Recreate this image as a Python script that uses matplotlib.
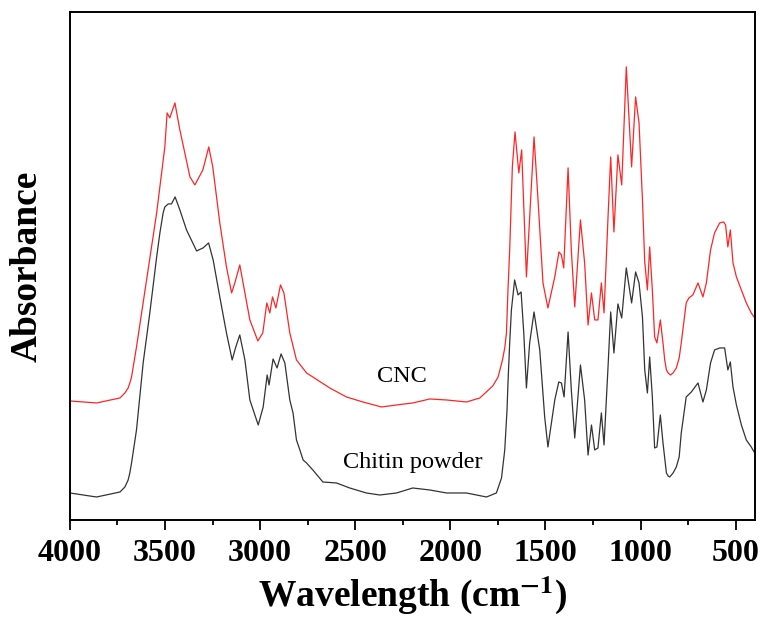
import matplotlib
matplotlib.use("Agg")
import matplotlib.pyplot as plt
from matplotlib.ticker import MultipleLocator

plt.rcParams["font.family"] = ["Liberation Serif", "DejaVu Serif"]
plt.rcParams["mathtext.fontset"] = "stix"

# FTIR spectra, wavenumber (cm-1) vs absorbance (a.u.)
cnc_wn = [4000, 3860, 3737, 3711, 3694, 3685, 3676, 3664, 3650, 3597, 3544, 3501, 3489, 3475,
          3448, 3422, 3396, 3369, 3343, 3301, 3270, 3249, 3212, 3177, 3150, 3133, 3107, 3080,
          3054, 3012, 2986, 2965, 2949, 2935, 2917, 2893, 2875, 2844, 2809, 2756, 2723, 2634,
          2546, 2460, 2362, 2283, 2198, 2108, 2020, 1915, 1845, 1777, 1749, 1726, 1714, 1705,
          1697, 1688, 1674, 1660, 1640, 1625, 1600, 1583, 1560, 1539, 1513, 1487, 1451, 1429,
          1416, 1404, 1381, 1364, 1346, 1316, 1294, 1276, 1258, 1241, 1224, 1206, 1192, 1171,
          1157, 1140, 1119, 1099, 1075, 1047, 1026, 1008, 990, 978, 964, 952, 938, 926, 914,
          896, 882, 873, 864, 855, 843, 829, 812, 797, 786, 760, 746, 725, 698, 672, 654, 632,
          611, 584, 563, 553, 541, 528, 514, 496, 470, 444, 418, 400]
cnc_abs = [1.19, 1.17, 1.22, 1.27, 1.32, 1.37, 1.43, 1.57, 1.73, 2.40, 3.07, 3.73, 4.07, 4.02,
           4.17, 3.90, 3.67, 3.43, 3.35, 3.50, 3.73, 3.53, 2.97, 2.53, 2.27, 2.37, 2.55, 2.27,
           2.00, 1.79, 1.87, 2.17, 2.07, 2.23, 2.12, 2.35, 2.27, 1.87, 1.60, 1.47, 1.43, 1.32,
           1.23, 1.18, 1.13, 1.15, 1.17, 1.21, 1.20, 1.18, 1.22, 1.34, 1.43, 1.60, 1.72, 1.87,
           2.30, 2.70, 3.53, 3.88, 3.47, 3.70, 2.43, 3.03, 3.83, 3.20, 2.37, 2.12, 2.43, 2.68,
           2.65, 2.52, 3.52, 2.70, 2.13, 3.00, 2.57, 1.95, 2.27, 2.00, 2.00, 2.37, 2.07, 3.03,
           3.63, 2.88, 3.65, 3.35, 4.53, 3.53, 4.23, 3.97, 3.20, 2.58, 2.30, 2.73, 2.30, 1.83, 1.77,
           2.00, 1.77, 1.60, 1.50, 1.47, 1.45, 1.47, 1.52, 1.62, 1.77, 2.17, 2.22, 2.25, 2.37,
           2.23, 2.37, 2.70, 2.87, 2.97, 2.98, 2.95, 2.73, 2.90, 2.57, 2.43, 2.30, 2.17, 2.07, 2.02]

chitin_wn = [4000, 3860, 3737, 3711, 3694, 3685, 3676, 3658, 3650, 3615, 3580, 3544, 3527, 3510,
             3501, 3483, 3466, 3447, 3422, 3387, 3334, 3300, 3271, 3247, 3212, 3177, 3147, 3128,
             3107, 3080, 3054, 3010, 2984, 2963, 2953, 2932, 2911, 2890, 2870, 2844, 2827, 2809,
             2791, 2774, 2756, 2723, 2670, 2598, 2529, 2441, 2371, 2283, 2198, 2108, 2020, 1915,
             1810, 1758, 1731, 1714, 1702, 1697, 1688, 1679, 1662, 1644, 1628, 1614, 1600, 1583,
             1560, 1530, 1504, 1487, 1451, 1430, 1416, 1402, 1381, 1364, 1346, 1316, 1294, 1276,
             1258, 1241, 1224, 1206, 1192, 1171, 1157, 1140, 1119, 1099, 1075, 1047, 1026, 1008,
             990, 978, 964, 952, 938, 926, 914, 896, 882, 864, 855, 847, 829, 812, 797, 786,
             760, 733, 698, 672, 654, 632, 611, 584, 558, 541, 528, 514, 496, 470, 444, 418, 400]
chitin_abs = [0.27, 0.23, 0.28, 0.33, 0.40, 0.47, 0.57, 0.80, 0.90, 1.57, 2.07, 2.63, 2.87, 3.07,
              3.13, 3.16, 3.16, 3.23, 3.10, 2.90, 2.69, 2.72, 2.77, 2.60, 2.23, 1.87, 1.60, 1.73,
              1.85, 1.60, 1.20, 0.95, 1.13, 1.45, 1.35, 1.61, 1.52, 1.66, 1.57, 1.20, 1.07, 0.80,
              0.70, 0.60, 0.57, 0.50, 0.38, 0.37, 0.32, 0.27, 0.25, 0.27, 0.32, 0.30, 0.27, 0.27,
              0.23, 0.27, 0.42, 0.70, 1.10, 1.37, 1.77, 2.10, 2.40, 2.25, 2.28, 1.87, 1.32, 1.77,
              2.08, 1.70, 1.03, 0.73, 1.20, 1.38, 1.37, 1.23, 1.88, 1.30, 0.82, 1.55, 1.20, 0.65,
              0.95, 0.70, 0.72, 1.07, 0.75, 1.53, 2.08, 1.67, 2.16, 2.02, 2.52, 2.17, 2.48, 2.37,
              2.03, 1.50, 1.27, 1.63, 1.23, 0.72, 0.73, 1.05, 0.77, 0.47, 0.44, 0.43, 0.47, 0.53,
              0.63, 0.87, 1.23, 1.28, 1.37, 1.18, 1.30, 1.57, 1.70, 1.72, 1.72, 1.50, 1.58, 1.33,
              1.15, 0.95, 0.80, 0.73, 0.67]

fig = plt.figure(figsize=(7.6, 6.25), dpi=100)
ax = fig.add_axes([0.092, 0.168, 0.901, 0.813])

ax.plot(cnc_wn, cnc_abs, color="#ff2525", lw=0.9)
ax.plot(chitin_wn, chitin_abs, color="#333333", lw=0.9)

ax.text(2255, 1.43, "CNC", fontsize=17.5, ha="center", va="center")
ax.text(2200, 0.57, "Chitin powder", fontsize=17.5, ha="center", va="center")

ax.set_xlim(4000, 400)
ax.set_ylim(0, 5.08)
ax.xaxis.set_major_locator(MultipleLocator(500))
ax.xaxis.set_minor_locator(MultipleLocator(250))
ax.set_yticks([])

ax.tick_params(axis="x", which="major", direction="out", length=7, width=1.3,
               labelsize=23, pad=7)
ax.tick_params(axis="x", which="minor", direction="out", length=3.5, width=1.3)
for lbl in ax.get_xticklabels():
    lbl.set_fontweight("bold")
for sp in ax.spines.values():
    sp.set_linewidth(1.4)

ax.set_xlabel(r"Wavelength (cm$^{\mathbf{-1}}$)", fontsize=27, fontweight="bold", labelpad=4)
ax.set_ylabel("Absorbance", fontsize=27, fontweight="bold", labelpad=18)

fig.savefig("out.png", dpi=100)
